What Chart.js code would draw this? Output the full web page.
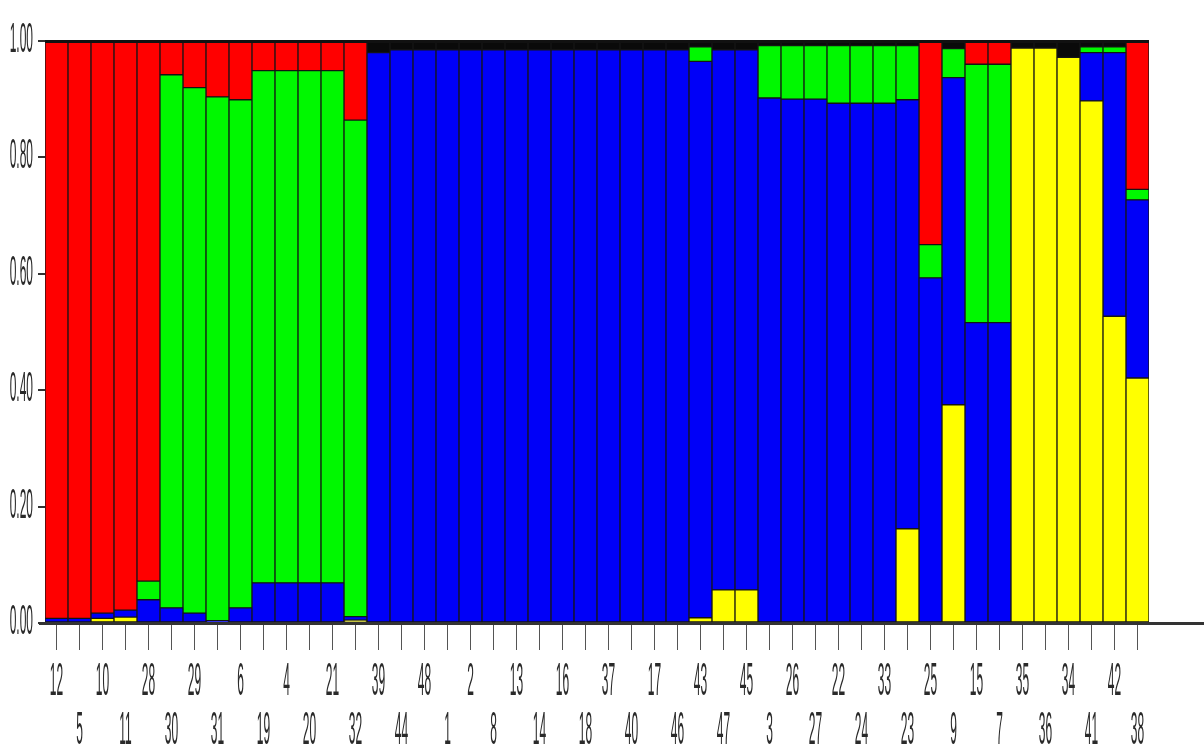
<!DOCTYPE html>
<html>
<head>
<meta charset="utf-8">
<script src="https://cdn.jsdelivr.net/npm/chart.js@4.4.1/dist/chart.umd.min.js"></script>
<style>
  html, body { margin: 0; padding: 0; background: #fff; }
  canvas { display: block; }
</style>
</head>
<body>
<canvas id="structureChart" width="1204" height="747"></canvas>
<script>
// Individuals in plot order (left to right)
const sampleIds = ['12','5','10','11','28','30','29','31','6','19','4','20','21','32',
  '39','44','48','1','2','8','13','14','16','18','37','40','17','46',
  '43','47','45','3','26','27','22','24','33','23','25','9','15','7',
  '35','36','34','41','42','38'];

// Membership coefficients, stacked bottom -> top
const yellowQ = [0,0,0.008,0.010,0,0,0,0,0,0,0,0,0,0.005,
  0,0,0,0,0,0,0,0,0,0,0,0,0,0,
  0.009,0.057,0.057,0,0,0,0,0,0,0.162,0,0.375,0,0,
  0.988,0.988,0.972,0.897,0.527,0.421];
const blueQ = [0.008,0.008,0.009,0.012,0.040,0.026,0.017,0.004,0.026,0.069,0.069,0.069,0.069,0.006,
  0.980,0.985,0.985,0.985,0.985,0.985,0.985,0.985,0.985,0.985,0.985,0.985,0.985,0.985,
  0.956,0.928,0.928,0.902,0.900,0.900,0.893,0.893,0.893,0.737,0.593,0.562,0.516,0.516,
  0,0,0,0.083,0.453,0.306];
const greenQ = [0,0,0,0,0.032,0.916,0.903,0.900,0.873,0.880,0.880,0.880,0.880,0.853,
  0,0,0,0,0,0,0,0,0,0,0,0,0,0,
  0.025,0,0,0.090,0.092,0.092,0.099,0.099,0.099,0.093,0.057,0.050,0.444,0.444,
  0,0,0,0.010,0.010,0.018];
const redQ = [0.992,0.992,0.983,0.978,0.928,0.058,0.080,0.096,0.101,0.051,0.051,0.051,0.051,0.136,
  0,0,0,0,0,0,0,0,0,0,0,0,0,0,
  0,0,0,0,0,0,0,0,0,0,0.350,0,0.040,0.040,
  0,0,0,0,0,0.255];
const blackQ = [0,0,0,0,0,0,0,0,0,0,0,0,0,0,
  0.020,0.015,0.015,0.015,0.015,0.015,0.015,0.015,0.015,0.015,0.015,0.015,0.015,0.015,
  0.010,0.015,0.015,0.008,0.008,0.008,0.008,0.008,0.008,0.008,0,0.013,0,0,
  0.012,0.012,0.028,0.010,0.010,0];

const yTickValues = [0, 0.2, 0.4, 0.6, 0.8, 1.0];

// Draws the tall, narrow labels of the original plot and the axis lines
const stretchedLabels = {
  id: 'stretchedLabels',
  afterDatasetsDraw(chart) {
    const ctx = chart.ctx;
    const area = chart.chartArea;
    ctx.save();
    ctx.strokeStyle = '#111';
    ctx.lineWidth = 3;
    ctx.beginPath();
    ctx.moveTo(area.left, area.top + 0.5);
    ctx.lineTo(area.right, area.top + 0.5);
    ctx.stroke();
    ctx.strokeStyle = '#333';
    ctx.beginPath();
    ctx.moveTo(area.left - 6, area.bottom + 0.5);
    ctx.lineTo(chart.width, area.bottom + 0.5);
    ctx.stroke();
    ctx.restore();
  },
  afterDraw(chart) {
    const ctx = chart.ctx;
    const xs = chart.scales.x;
    const ys = chart.scales.y;
    const area = chart.chartArea;
    ctx.save();
    ctx.fillStyle = '#2a2a2a';
    ctx.font = '12px "Liberation Sans", Arial, sans-serif';
    ctx.textBaseline = 'alphabetic';

    ctx.textAlign = 'center';
    sampleIds.forEach((id, i) => {
      const x = xs.getPixelForValue(i);
      const y = area.bottom + (i % 2 === 0 ? 72 : 121);
      ctx.save();
      ctx.translate(x, y);
      ctx.scale(1, 3.9);
      ctx.fillText(id, 0, 0);
      ctx.restore();
    });

    ctx.textAlign = 'right';
    yTickValues.forEach(v => {
      const y = ys.getPixelForValue(v);
      ctx.save();
      ctx.translate(area.left - 12, y + 11);
      ctx.scale(1, 3.5);
      ctx.fillText(v.toFixed(2), 0, 0);
      ctx.restore();
    });
    ctx.restore();
  }
};

const barStyle = {
  borderColor: '#151515',
  borderWidth: 1,
  borderSkipped: false,
  barPercentage: 1,
  categoryPercentage: 1
};

new Chart(document.getElementById('structureChart'), {
  type: 'bar',
  data: {
    labels: sampleIds,
    datasets: [
      Object.assign({ label: 'Cluster 4', data: yellowQ, backgroundColor: '#ffff00' }, barStyle),
      Object.assign({ label: 'Cluster 3', data: blueQ, backgroundColor: '#0000f8' }, barStyle),
      Object.assign({ label: 'Cluster 2', data: greenQ, backgroundColor: '#00f800' }, barStyle),
      Object.assign({ label: 'Cluster 1', data: redQ, backgroundColor: '#ff0000' }, barStyle),
      Object.assign({ label: 'Cluster 5', data: blackQ, backgroundColor: '#0a0a0a' }, barStyle)
    ]
  },
  options: {
    responsive: false,
    animation: false,
    layout: { padding: { left: 38, top: 41, right: 55, bottom: 97 } },
    plugins: { legend: { display: false }, tooltip: { enabled: false } },
    scales: {
      x: {
        stacked: true,
        border: { display: false },
        grid: { display: true, drawOnChartArea: false, drawTicks: true, tickLength: 27, offset: false, color: '#555', lineWidth: 1 },
        ticks: { display: false, autoSkip: false }
      },
      y: {
        stacked: true,
        min: 0,
        max: 1,
        border: { display: false },
        grid: { display: true, drawOnChartArea: false, drawTicks: true, tickLength: 7, color: '#333', lineWidth: 2 },
        ticks: { display: false, stepSize: 0.2 }
      }
    }
  },
  plugins: [stretchedLabels]
});
</script>
</body>
</html>
